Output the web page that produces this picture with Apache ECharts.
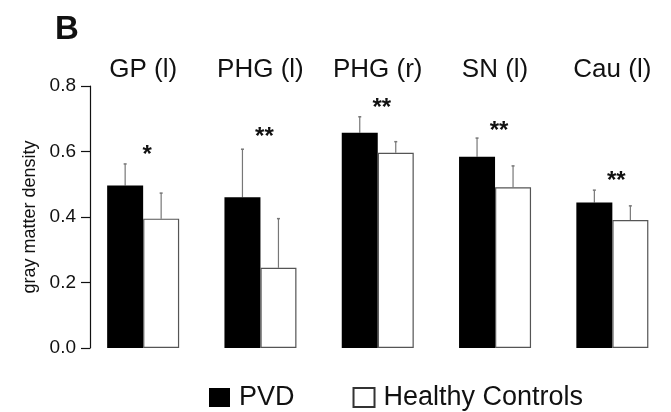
<!DOCTYPE html>
<html>
<head>
<meta charset="utf-8">
<script src="https://cdn.jsdelivr.net/npm/echarts@6/dist/echarts.min.js"></script>
<style>html,body{margin:0;padding:0;background:#fff;}#c{width:671px;height:412px;}</style>
</head>
<body>
<div id="c"></div>
<script>
var categories = ['GP (l)', 'PHG (l)', 'PHG (r)', 'SN (l)', 'Cau (l)'];
var pvdMean = [0.496, 0.460, 0.657, 0.584, 0.444];
var pvdErr  = [0.066, 0.147, 0.049, 0.057, 0.038];
var hcMean  = [0.395, 0.245, 0.596, 0.491, 0.391];
var hcErr   = [0.078, 0.150, 0.034, 0.065, 0.043];
var sigLabels = ['*', '**', '**', '**', '**'];
var sigY = [0.589, 0.644, 0.733, 0.660, 0.510];
var yTicks = [0, 0.2, 0.4, 0.6, 0.8];
var seriesNames = ['PVD', 'Healthy Controls'];

var FONT = 'Liberation Sans, Arial, sans-serif';
var BAR_W = 36;

function errSeries(means, errs, side) {
  return {
    type: 'custom',
    silent: true,
    z: 1,
    data: means.map(function (m, i) { return [i, m, m + errs[i]]; }),
    renderItem: function (params, api) {
      var lo = api.coord([api.value(0), api.value(1)]);
      var hi = api.coord([api.value(0), api.value(2)]);
      var x = lo[0] + side * BAR_W / 2;
      return {
        type: 'group',
        children: [
          { type: 'line', shape: { x1: x, y1: lo[1], x2: x, y2: hi[1] }, style: { stroke: '#777', lineWidth: 1.2 } },
          { type: 'line', shape: { x1: x - 1.5, y1: hi[1], x2: x + 1.5, y2: hi[1] }, style: { stroke: '#777', lineWidth: 1.5 } }
        ]
      };
    }
  };
}

var chart = echarts.init(document.getElementById('c'), null, { renderer: 'canvas' });
chart.setOption({
  animation: false,
  backgroundColor: '#fff',
  title: {
    text: 'B', left: 50, top: 8,
    textStyle: { fontFamily: FONT, fontSize: 33, fontWeight: 'bold', color: '#111' }
  },
  legend: {
    left: 204, top: 379,
    itemWidth: 21, itemHeight: 19, itemGap: 58,
    icon: 'rect',
    textStyle: { fontFamily: FONT, fontSize: 27, color: '#111', padding: [0, 0, 0, 4] },
    data: [
      { name: seriesNames[0], itemStyle: { color: '#000', borderColor: '#000', borderWidth: 0 } },
      { name: seriesNames[1], itemStyle: { color: '#fff', borderColor: '#333', borderWidth: 2 } }
    ]
  },
  grid: { left: 84.5, right: -12.5, top: 86, bottom: 64 },
  xAxis: {
    type: 'category',
    data: categories,
    position: 'top',
    axisLine: { show: false },
    axisTick: { show: false },
    axisLabel: { margin: 3, fontFamily: FONT, fontSize: 26, color: '#111' }
  },
  yAxis: {
    type: 'value',
    min: 0, max: 0.8, interval: 0.2,
    offset: -5.5,
    name: 'gray matter density',
    nameLocation: 'middle',
    nameGap: 51,
    nameRotate: 90,
    nameTextStyle: { fontFamily: FONT, fontSize: 18, color: '#111' },
    axisLine: { show: true, lineStyle: { color: '#111', width: 1.2 } },
    axisTick: { show: true, length: 9, lineStyle: { color: '#111', width: 1.2 } },
    axisLabel: {
      margin: 14, fontFamily: FONT, fontSize: 19, color: '#111',
      formatter: function (v) { return yTicks.indexOf(v) >= 0 ? v.toFixed(1) : ''; }
    },
    splitLine: { show: false }
  },
  series: [
    {
      name: seriesNames[0], type: 'bar', data: pvdMean, barWidth: BAR_W, barGap: '0%', z: 2,
      itemStyle: { color: '#000', borderColor: '#000', borderWidth: 0 }
    },
    {
      name: seriesNames[1], type: 'bar', data: hcMean, barWidth: BAR_W, barGap: '0%', z: 2,
      itemStyle: { color: '#fff', borderColor: '#555', borderWidth: 1.2 }
    },
    errSeries(pvdMean, pvdErr, -1),
    errSeries(hcMean, hcErr, 1),
    {
      type: 'custom',
      silent: true,
      z: 3,
      data: sigY.map(function (y, i) { return [i, y]; }),
      renderItem: function (params, api) {
        var p = api.coord([api.value(0), api.value(1)]);
        return {
          type: 'text',
          x: p[0] + 4, y: p[1],
          style: {
            text: sigLabels[params.dataIndex],
            fontFamily: FONT, fontSize: 24, fontWeight: 'bold', fill: '#111',
            align: 'center', verticalAlign: 'middle'
          }
        };
      }
    }
  ]
});
</script>
</body>
</html>
